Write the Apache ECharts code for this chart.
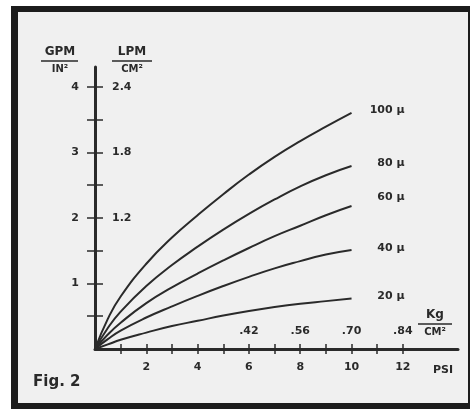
<!DOCTYPE html>
<html>
<head>
<meta charset="utf-8">
<script src="https://cdn.jsdelivr.net/npm/echarts@6.0.0/dist/echarts.min.js"></script>
<style>
  html, body { margin: 0; padding: 0; background: #fff; }
  #main { width: 470px; height: 409px; }
</style>
</head>
<body>
<div id="main"></div>
<script>
var chartDom = document.getElementById('main');
var myChart = echarts.init(chartDom);

var psi = [0, 0.5, 1, 2, 3, 4, 5, 6, 7, 8, 9, 10];
// GPM / IN² for each filter rating
var names = ['100 μ', '80 μ', '60 μ', '40 μ', '20 μ'];
var flow100 = [0, 0.46, 0.80, 1.30, 1.70, 2.04, 2.36, 2.66, 2.93, 3.17, 3.39, 3.60];
var flow80  = [0, 0.32, 0.57, 0.96, 1.28, 1.56, 1.82, 2.06, 2.28, 2.48, 2.65, 2.79];
var flow60  = [0, 0.22, 0.40, 0.70, 0.94, 1.15, 1.35, 1.54, 1.72, 1.88, 2.04, 2.18];
var flow40  = [0, 0.15, 0.28, 0.48, 0.65, 0.81, 0.96, 1.10, 1.23, 1.34, 1.44, 1.51];
var flow20  = [0, 0.07, 0.14, 0.25, 0.35, 0.43, 0.51, 0.58, 0.64, 0.69, 0.73, 0.77];

// axis ticks and labels
var psiTicks = [1, 2, 3, 4, 5, 6, 7, 8, 9, 10, 11, 12];
var psiLabels = [2, 4, 6, 8, 10, 12];
var kgAt = [6, 8, 10, 12];
var kgLabels = ['.42', '.56', '.70', '.84'];
var gpmTicks = [0.5, 1, 1.5, 2, 2.5, 3, 3.5, 4];
var gpmLabels = [1, 2, 3, 4];
var lpmAt = [2, 3, 4];
var lpmLabels = ['1.2', '1.8', '2.4'];

var ink = '#2a2a2a';
var font = 'DejaVu Sans';

var allFlows = [flow100, flow80, flow60, flow40, flow20];
var labelLift = [-3, -3, -9, -2, -2];

var series = allFlows.map(function (flow, i) {
    return {
        name: names[i],
        type: 'line',
        smooth: true,
        symbol: 'none',
        data: flow.map(function (v, j) { return [psi[j], v]; }),
        lineStyle: { color: ink, width: 2 },
        endLabel: {
            show: true,
            distance: 9,
            offset: [0, labelLift[i]],
            formatter: function (p) { return '{n|' + p.seriesName + '}'; },
            rich: {
                n: { width: 44, align: 'right', fontSize: 11, fontWeight: 'bold', color: ink, fontFamily: font }
            }
        }
    };
});

function fraction(cx, top, bottom, x1, x2, y) {
    return [
        { type: 'text', x: cx, y: y - 9, style: { text: top, fill: ink, font: 'bold 12px ' + font, align: 'center', verticalAlign: 'middle' } },
        { type: 'line', shape: { x1: x1, y1: y, x2: x2, y2: y }, style: { stroke: ink, lineWidth: 1.5 } },
        { type: 'text', x: cx, y: y + 8, style: { text: bottom, fill: ink, font: 'bold 10px ' + font, align: 'center', verticalAlign: 'middle' } }
    ];
}

var graphic = [
    { type: 'rect', z: -10, shape: { x: 11, y: 6, width: 459, height: 403 }, style: { fill: '#1c1c1c' } },
    { type: 'rect', z: -9, shape: { x: 18, y: 12, width: 450, height: 391 }, style: { fill: '#f0f0f0' } },
    { type: 'text', x: 33, y: 382, style: { text: 'Fig. 2', fill: ink, font: 'bold 15px ' + font, verticalAlign: 'middle' } },
    { type: 'text', x: 433, y: 370, style: { text: 'PSI', fill: ink, font: 'bold 11px ' + font, verticalAlign: 'middle' } }
].concat(
    fraction(60, 'GPM', 'IN²', 41, 78, 61),
    fraction(132, 'LPM', 'CM²', 112, 152, 61),
    fraction(435, 'Kg', 'CM²', 418, 452, 324)
);

var axisText = { color: ink, fontSize: 11, fontWeight: 'bold', fontFamily: font };

option = {
    animation: false,
    backgroundColor: '#fff',
    graphic: graphic,
    grid: { left: 95, top: 67, right: 12, bottom: 60 },
    xAxis: [{
        type: 'value', min: 0, max: 14.15, position: 'bottom',
        axisLine: { show: true, lineStyle: { color: ink, width: 3 } },
        axisTick: { show: true, length: 5, customValues: psiTicks, lineStyle: { color: ink, width: 1.5 } },
        axisLabel: Object.assign({ customValues: psiLabels, margin: 13 }, axisText),
        splitLine: { show: false }
    }, {
        type: 'value', min: 0, max: 14.15, position: 'bottom',
        axisLine: { show: false },
        axisTick: { show: true, inside: true, length: 5, customValues: psiTicks, lineStyle: { color: ink, width: 1.5 } },
        axisLabel: Object.assign({
            inside: true, margin: 12, customValues: kgAt,
            formatter: function (v) { return kgLabels[kgAt.indexOf(v)]; }
        }, axisText),
        splitLine: { show: false }
    }],
    yAxis: [{
        type: 'value', min: 0, max: 4.3, position: 'left',
        axisLine: { show: true, lineStyle: { color: ink, width: 3 } },
        axisTick: { show: true, length: 8, customValues: gpmTicks, lineStyle: { color: ink, width: 1.5 } },
        axisLabel: Object.assign({ customValues: gpmLabels, margin: 16 }, axisText),
        splitLine: { show: false }
    }, {
        type: 'value', min: 0, max: 4.3, position: 'left', offset: 0,
        axisLine: { show: false },
        axisTick: { show: true, inside: true, length: 8, customValues: gpmTicks, lineStyle: { color: ink, width: 1.5 } },
        axisLabel: Object.assign({
            inside: true, margin: 17, customValues: lpmAt,
            formatter: function (v) { return lpmLabels[lpmAt.indexOf(v)]; }
        }, axisText),
        splitLine: { show: false }
    }],
    series: series
};

myChart.setOption(option);
</script>
</body>
</html>
